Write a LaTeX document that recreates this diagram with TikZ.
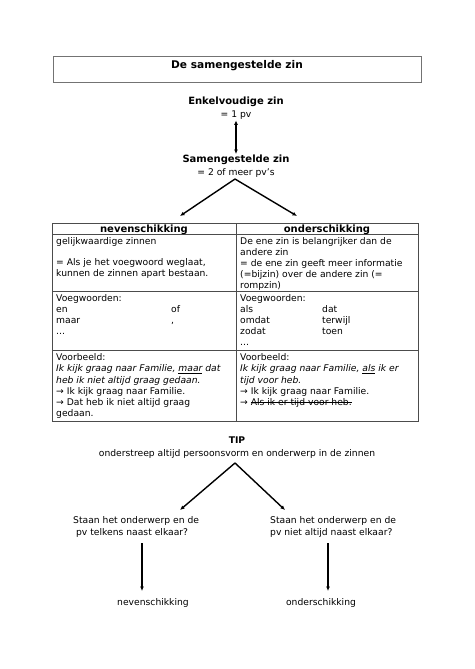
\documentclass[tikz,border=0pt]{standalone}
\usepackage{fontspec}
\setmainfont{DejaVu Sans}
\usetikzlibrary{arrows.meta}
\newcommand\mystrike[1]{\setbox0\hbox{#1}\rlap{\rule[2.9pt]{\wd0}{0.55pt}}\box0}
\newcommand\myunder[1]{\setbox0\hbox{#1}\rlap{\rule[-1.4pt]{\wd0}{0.55pt}}\box0}
\begin{document}
\begin{tikzpicture}[x=1pt,y=-1pt,
  txt/.style={font=\fontsize{9.2}{11.2}\selectfont, inner sep=0pt, align=left},
  ctxt/.style={font=\fontsize{9.2}{12.5}\selectfont, inner sep=0pt, align=center},
  hdr/.style={font=\fontsize{10}{11}\selectfont\bfseries, inner sep=0pt},
  grid/.style={draw=black!70, line width=0.8pt},
  conn/.style={line width=1.4pt, -{Latex[length=4.5pt,width=4pt]}},
  conn2/.style={line width=1.4pt, {Latex[length=4.5pt,width=4pt]}-{Latex[length=4.5pt,width=4pt]}}]
\useasboundingbox (0,0) rectangle (474,669);
\fill[white] (0,0) rectangle (474,669);
% title
\node[draw=black!55, line width=0.8pt, minimum width=368pt, minimum height=26pt, anchor=north west, inner sep=0pt] (titlebox) at (53,56) {};
\node[font=\fontsize{10.6}{12}\selectfont\bfseries, inner sep=0pt, anchor=base] (title) at (237,68) {De samengestelde zin};
% top part
\node[ctxt, anchor=north] (enk) at (236,97) {\textbf{\fontsize{10}{12}\selectfont Enkelvoudige zin}\\ = 1 pv};
\node[ctxt, anchor=north] (sam) at (236,155) {\textbf{\fontsize{10}{12}\selectfont Samengestelde zin}\\ = 2 of meer pv’s};
\draw[conn2] ([yshift=-1pt]enk.south) -- ([yshift=1pt]sam.north);
\coordinate (apex1) at (235,179);
% table grid
\draw[grid] (52,223) rectangle (418,421);
\draw[grid] (236,223) -- (236,421);
\draw[grid] (52,234) -- (418,234);
\draw[grid] (52,291) -- (418,291);
\draw[grid] (52,350) -- (418,350);
% headers
\node[hdr, anchor=base] (hneven) at (144,232) {nevenschikking};
\node[hdr, anchor=base] (honder) at (327,232) {onderschikking};
\coordinate (tipL) at (180,216);
\coordinate (tipR) at (297,216);
\draw[conn] (apex1) -- (tipL);
\draw[conn] (apex1) -- (tipR);
% row 2
\node[txt, anchor=north west] (c21) at (56,237) {gelijkwaardige zinnen\\[10pt] = Als je het voegwoord weglaat,\\ kunnen de zinnen apart bestaan.};
\node[txt, anchor=north west] (c22) at (240,237) {De ene zin is belangrijker dan de\\ andere zin\\ = de ene zin geeft meer informatie\\ (=bijzin) over de andere zin (=\\ rompzin)};
% row 3
\node[txt, anchor=north west] (c31) at (56,294) {Voegwoorden:\\ en\\ maar\\ ...};
\node[txt, anchor=north west] (c31b) at (171,305.2) {of\\ ,};
\node[txt, anchor=north west] (c32) at (240,294) {Voegwoorden:\\ als\\ omdat\\ zodat\\ ...};
\node[txt, anchor=north west] (c32b) at (322,305.2) {dat\\ terwijl\\ toen};
% row 4
\node[txt, anchor=north west] (c41) at (56,353.5) {Voorbeeld:\\ \textit{Ik kijk graag naar Familie, \myunder{maar}\ dat}\\ \textit{heb ik niet altijd graag gedaan.}\\ → Ik kijk graag naar Familie.\\ → Dat heb ik niet altijd graag\\ gedaan.};
\node[txt, anchor=north west] (c42) at (240,353.5) {Voorbeeld:\\ \textit{Ik kijk graag naar Familie, \myunder{als}\ ik er}\\ \textit{tijd voor heb.}\\ → Ik kijk graag naar Familie.\\ → \mystrike{Als ik er tijd voor heb.}};
% tip
\node[ctxt, anchor=north] (tip) at (237,437) {\textbf{TIP}\\ onderstreep altijd persoonsvorm en onderwerp in de zinnen};
\coordinate (apex2) at (235,463);
\node[txt, anchor=north west, font=\fontsize{9.2}{12.8}\selectfont] (qL) at (73,516) {Staan het onderwerp en de\\ \ pv telkens naast elkaar?};
\node[txt, anchor=north west, font=\fontsize{9.2}{12.8}\selectfont] (qR) at (270,516) {Staan het onderwerp en de\\ pv niet altijd naast elkaar?};
\draw[conn] (apex2) -- (180,510) coordinate (t2L);
\draw[conn] (apex2) -- (285,510) coordinate (t2R);
\node[txt, anchor=base] (nev) at (153,605) {nevenschikking};
\node[txt, anchor=base] (ond) at (321,605) {onderschikking};
\draw[conn] (142,543) -- (142,591);
\draw[conn] (328,543) -- (328,591);
\end{tikzpicture}
\end{document}
